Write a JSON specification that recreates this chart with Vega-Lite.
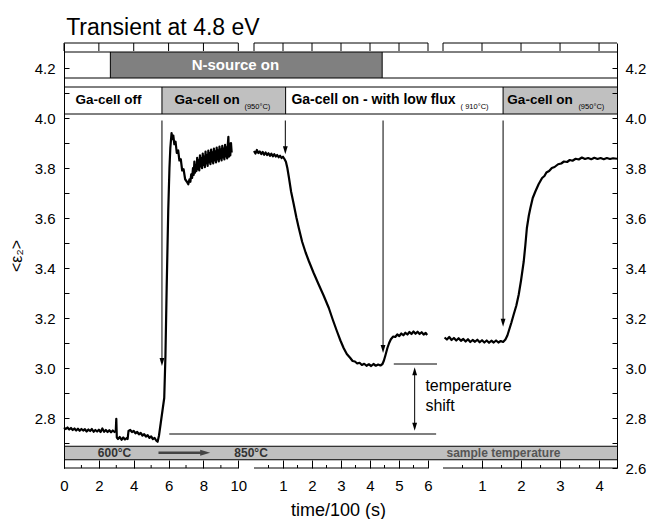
{
"$schema": "https://vega.github.io/schema/vega-lite/v6.json",
"padding": {"left": 8, "right": 3, "top": 16, "bottom": 0},
"title": {"text": "Transient at 4.8 eV", "anchor": "start", "fontSize": 23, "fontWeight": "normal", "color": "black", "offset": 3, "dx": 58},
"spacing": 0,
"bounds": "flush",
"config": {
  "font": "Liberation Sans",
  "view": {"stroke": null},
  "axis": {"grid": false, "domainColor": "black", "tickColor": "black", "labelColor": "black", "titleColor": "black", "labelFontSize": 15, "titleFontSize": 18, "titleFontWeight": "normal", "labelFlush": false, "labelOverlap": false, "zindex": 1},
  "text": {"font": "Liberation Sans"}
},
"datasets": {
  "p1N": [{"start": 0, "end": 2.66, "state": "clear"}, {"start": 2.66, "end": 10.9, "state": "nsource"}],
  "p1Ga": [{"start": 0, "end": 5.62, "state": "off"}, {"start": 5.62, "end": 10.9, "state": "on950"}],
  "p2N": [{"start": 0, "end": 4.42, "state": "nsource"}, {"start": 4.42, "end": 6.517, "state": "clear"}],
  "p2Ga": [{"start": 0, "end": 1.09, "state": "on950"}, {"start": 1.09, "end": 6.517, "state": "low"}],
  "p3N": [{"start": 0, "end": 4.46, "state": "clear"}],
  "p3Ga": [{"start": 0, "end": 1.54, "state": "low"}, {"start": 1.54, "end": 4.46, "state": "on950"}],
  "p1top": [{"t": 0}, {"t": 2}, {"t": 4}, {"t": 6}, {"t": 8}, {"t": 10}],
  "p1minor": [{"t": 1}, {"t": 3}, {"t": 5}, {"t": 7}, {"t": 9}],
  "p2top": [{"t": 0}, {"t": 1}, {"t": 2}, {"t": 3}, {"t": 4}, {"t": 5}, {"t": 6}],
  "p2minor": [{"t": 0.5}, {"t": 1.5}, {"t": 2.5}, {"t": 3.5}, {"t": 4.5}, {"t": 5.5}],
  "p3top": [{"t": 0}, {"t": 1}, {"t": 2}, {"t": 3}, {"t": 4}],
  "p3minor": [{"t": 0.5}, {"t": 1.5}, {"t": 2.5}, {"t": 3.5}],
  "p1curve": [{"t":0,"v":2.762},{"t":0.1,"v":2.756},{"t":0.2,"v":2.762},{"t":0.3,"v":2.754},{"t":0.4,"v":2.760},{"t":0.5,"v":2.752},{"t":0.6,"v":2.758},{"t":0.7,"v":2.750},{"t":0.8,"v":2.757},{"t":0.9,"v":2.749},{"t":1.0,"v":2.756},{"t":1.1,"v":2.750},{"t":1.2,"v":2.755},{"t":1.3,"v":2.746},{"t":1.4,"v":2.754},{"t":1.5,"v":2.748},{"t":1.6,"v":2.756},{"t":1.7,"v":2.745},{"t":1.8,"v":2.752},{"t":1.9,"v":2.746},{"t":2.0,"v":2.753},{"t":2.1,"v":2.744},{"t":2.2,"v":2.758},{"t":2.3,"v":2.745},{"t":2.4,"v":2.752},{"t":2.5,"v":2.744},{"t":2.6,"v":2.751},{"t":2.7,"v":2.743},{"t":2.8,"v":2.750},{"t":2.9,"v":2.744},{"t":2.97,"v":2.748},{"t":3.0,"v":2.797},{"t":3.03,"v":2.722},{"t":3.1,"v":2.716},{"t":3.2,"v":2.724},{"t":3.3,"v":2.713},{"t":3.4,"v":2.722},{"t":3.5,"v":2.714},{"t":3.6,"v":2.720},{"t":3.65,"v":2.716},{"t":3.7,"v":2.748},{"t":3.8,"v":2.752},{"t":3.9,"v":2.744},{"t":4.0,"v":2.748},{"t":4.1,"v":2.739},{"t":4.2,"v":2.744},{"t":4.3,"v":2.735},{"t":4.4,"v":2.740},{"t":4.5,"v":2.730},{"t":4.6,"v":2.735},{"t":4.7,"v":2.726},{"t":4.8,"v":2.731},{"t":4.9,"v":2.721},{"t":5.0,"v":2.726},{"t":5.1,"v":2.716},{"t":5.2,"v":2.720},{"t":5.3,"v":2.709},{"t":5.37,"v":2.705},{"t":5.45,"v":2.73},{"t":5.55,"v":2.78},{"t":5.65,"v":2.83},{"t":5.75,"v":2.88},{"t":5.82,"v":3.05},{"t":5.89,"v":3.32},{"t":5.98,"v":3.63},{"t":6.05,"v":3.80},{"t":6.1,"v":3.88},{"t":6.17,"v":3.94},{"t":6.22,"v":3.915},{"t":6.27,"v":3.93},{"t":6.33,"v":3.895},{"t":6.4,"v":3.905},{"t":6.47,"v":3.86},{"t":6.55,"v":3.87},{"t":6.62,"v":3.83},{"t":6.7,"v":3.835},{"t":6.78,"v":3.79},{"t":6.86,"v":3.795},{"t":6.95,"v":3.755},{"t":7.05,"v":3.745},{"t":7.13,"v":3.735},{"t":7.2,"v":3.755},{"t":7.25,"v":3.745},{"t":7.3,"v":3.775},{"t":7.35,"v":3.760},{"t":7.40,"v":3.800},{"t":7.44,"v":3.772},{"t":7.48,"v":3.826},{"t":7.52,"v":3.781},{"t":7.56,"v":3.812},{"t":7.60,"v":3.788},{"t":7.64,"v":3.841},{"t":7.68,"v":3.795},{"t":7.72,"v":3.830},{"t":7.76,"v":3.790},{"t":7.80,"v":3.851},{"t":7.84,"v":3.806},{"t":7.88,"v":3.838},{"t":7.92,"v":3.799},{"t":7.96,"v":3.858},{"t":8.00,"v":3.812},{"t":8.04,"v":3.845},{"t":8.08,"v":3.803},{"t":8.12,"v":3.866},{"t":8.16,"v":3.818},{"t":8.20,"v":3.850},{"t":8.24,"v":3.808},{"t":8.28,"v":3.870},{"t":8.32,"v":3.822},{"t":8.36,"v":3.859},{"t":8.40,"v":3.815},{"t":8.44,"v":3.874},{"t":8.48,"v":3.826},{"t":8.52,"v":3.862},{"t":8.56,"v":3.818},{"t":8.60,"v":3.878},{"t":8.64,"v":3.830},{"t":8.68,"v":3.866},{"t":8.72,"v":3.822},{"t":8.76,"v":3.882},{"t":8.80,"v":3.834},{"t":8.84,"v":3.870},{"t":8.88,"v":3.826},{"t":8.92,"v":3.886},{"t":8.96,"v":3.838},{"t":9.00,"v":3.874},{"t":9.04,"v":3.830},{"t":9.08,"v":3.889},{"t":9.12,"v":3.842},{"t":9.16,"v":3.877},{"t":9.20,"v":3.834},{"t":9.24,"v":3.893},{"t":9.28,"v":3.846},{"t":9.32,"v":3.882},{"t":9.36,"v":3.838},{"t":9.40,"v":3.896},{"t":9.43,"v":3.925},{"t":9.46,"v":3.845},{"t":9.50,"v":3.898},{"t":9.54,"v":3.850},{"t":9.58,"v":3.900},{"t":9.62,"v":3.862}],
  "p2curve": [{"t":0,"v":3.868},{"t":0.05,"v":3.858},{"t":0.1,"v":3.872},{"t":0.15,"v":3.860},{"t":0.2,"v":3.866},{"t":0.25,"v":3.856},{"t":0.3,"v":3.864},{"t":0.35,"v":3.853},{"t":0.4,"v":3.862},{"t":0.45,"v":3.852},{"t":0.5,"v":3.859},{"t":0.55,"v":3.849},{"t":0.6,"v":3.857},{"t":0.65,"v":3.847},{"t":0.7,"v":3.855},{"t":0.75,"v":3.846},{"t":0.8,"v":3.852},{"t":0.85,"v":3.843},{"t":0.9,"v":3.849},{"t":0.95,"v":3.840},{"t":1.0,"v":3.845},{"t":1.05,"v":3.836},{"t":1.1,"v":3.825},{"t":1.15,"v":3.80},{"t":1.2,"v":3.765},{"t":1.28,"v":3.705},{"t":1.37,"v":3.655},{"t":1.46,"v":3.603},{"t":1.54,"v":3.562},{"t":1.66,"v":3.505},{"t":1.78,"v":3.462},{"t":1.89,"v":3.428},{"t":2.05,"v":3.382},{"t":2.23,"v":3.334},{"t":2.4,"v":3.29},{"t":2.58,"v":3.24},{"t":2.72,"v":3.192},{"t":2.86,"v":3.147},{"t":2.98,"v":3.11},{"t":3.09,"v":3.08},{"t":3.2,"v":3.056},{"t":3.32,"v":3.04},{"t":3.4,"v":3.028},{"t":3.48,"v":3.026},{"t":3.56,"v":3.018},{"t":3.64,"v":3.021},{"t":3.72,"v":3.012},{"t":3.8,"v":3.017},{"t":3.88,"v":3.009},{"t":3.96,"v":3.015},{"t":4.04,"v":3.008},{"t":4.12,"v":3.016},{"t":4.2,"v":3.009},{"t":4.28,"v":3.014},{"t":4.36,"v":3.010},{"t":4.43,"v":3.016},{"t":4.48,"v":3.03},{"t":4.53,"v":3.05},{"t":4.6,"v":3.08},{"t":4.66,"v":3.10},{"t":4.72,"v":3.115},{"t":4.8,"v":3.126},{"t":4.87,"v":3.124},{"t":4.94,"v":3.134},{"t":5.01,"v":3.128},{"t":5.08,"v":3.138},{"t":5.15,"v":3.131},{"t":5.22,"v":3.141},{"t":5.29,"v":3.134},{"t":5.36,"v":3.144},{"t":5.43,"v":3.136},{"t":5.5,"v":3.146},{"t":5.57,"v":3.137},{"t":5.64,"v":3.145},{"t":5.71,"v":3.136},{"t":5.78,"v":3.143},{"t":5.85,"v":3.134},{"t":5.92,"v":3.140},{"t":5.97,"v":3.132}],
  "p3curve": [{"t":0.04,"v":3.122},{"t":0.1,"v":3.114},{"t":0.16,"v":3.124},{"t":0.22,"v":3.112},{"t":0.28,"v":3.12},{"t":0.34,"v":3.110},{"t":0.4,"v":3.119},{"t":0.46,"v":3.109},{"t":0.52,"v":3.116},{"t":0.58,"v":3.106},{"t":0.64,"v":3.115},{"t":0.7,"v":3.104},{"t":0.76,"v":3.112},{"t":0.82,"v":3.105},{"t":0.88,"v":3.113},{"t":0.94,"v":3.103},{"t":1.0,"v":3.111},{"t":1.06,"v":3.102},{"t":1.12,"v":3.110},{"t":1.18,"v":3.101},{"t":1.24,"v":3.109},{"t":1.3,"v":3.102},{"t":1.36,"v":3.110},{"t":1.42,"v":3.102},{"t":1.48,"v":3.108},{"t":1.54,"v":3.104},{"t":1.6,"v":3.114},{"t":1.65,"v":3.13},{"t":1.7,"v":3.155},{"t":1.75,"v":3.18},{"t":1.81,"v":3.213},{"t":1.88,"v":3.25},{"t":1.94,"v":3.293},{"t":2.0,"v":3.35},{"t":2.07,"v":3.427},{"t":2.11,"v":3.49},{"t":2.15,"v":3.56},{"t":2.2,"v":3.61},{"t":2.24,"v":3.64},{"t":2.3,"v":3.68},{"t":2.37,"v":3.707},{"t":2.45,"v":3.735},{"t":2.54,"v":3.76},{"t":2.6,"v":3.768},{"t":2.65,"v":3.782},{"t":2.72,"v":3.788},{"t":2.79,"v":3.80},{"t":2.86,"v":3.804},{"t":2.95,"v":3.815},{"t":3.03,"v":3.818},{"t":3.1,"v":3.826},{"t":3.18,"v":3.824},{"t":3.25,"v":3.832},{"t":3.32,"v":3.829},{"t":3.4,"v":3.837},{"t":3.48,"v":3.834},{"t":3.56,"v":3.842},{"t":3.64,"v":3.836},{"t":3.72,"v":3.840},{"t":3.8,"v":3.835},{"t":3.88,"v":3.841},{"t":3.96,"v":3.836},{"t":4.04,"v":3.840},{"t":4.12,"v":3.835},{"t":4.2,"v":3.840},{"t":4.28,"v":3.836},{"t":4.36,"v":3.839},{"t":4.46,"v":3.837}]
},
"hconcat": [
{
  "width": 190, "height": 425,
  "data": {"values": [{}]},
  "layer": [
    {"data": {"name": "p1N"}, "mark": {"type": "rect"},
     "encoding": {
       "x": {"field": "start", "type": "quantitative", "scale": {"domain": [0, 10.9], "nice": false, "zero": false}, "axis": {"orient": "bottom", "values": [0, 2, 4, 6, 8, 10], "tickCount": 100, "format": ".0f", "domain": false, "tickSize": -8, "labelPadding": 18, "labelOverlap": false, "zindex": 1, "title": null}},
       "x2": {"field": "end"},
       "y": {"datum": 4.16, "type": "quantitative", "scale": {"domain": [2.6, 4.3], "nice": false, "zero": false}, "axis": {"orient": "left", "values": [2.7, 2.8, 2.9, 3.0, 3.1, 3.2, 3.3, 3.4, 3.5, 3.6, 3.7, 3.8, 3.9, 4.0, 4.1, 4.2], "tickCount": 100, "tickSize": -5, "labelPadding": 14, "labelOverlap": false, "zindex": 1, "labelExpr": "round(datum.value*10) % 2 == 0 ? format(datum.value, '.1f') : ''", "title": "<ε₂>", "titleFontSize": 16, "titlePadding": 10}},
       "y2": {"datum": 4.264},
       "fill": {"field": "state", "type": "nominal", "scale": {"domain": ["clear", "nsource", "off", "on950", "low"], "range": ["#ffffff", "#808080", "#ffffff", "#c0c0c0", "#ffffff"]}, "legend": null}
     }},
    {"data": {"name": "p1Ga"}, "mark": {"type": "rect"},
     "encoding": {"x": {"field": "start", "type": "quantitative"}, "x2": {"field": "end"}, "y": {"datum": 4.016}, "y2": {"datum": 4.124},
       "fill": {"field": "state", "type": "nominal", "scale": {"domain": ["clear", "nsource", "off", "on950", "low"], "range": ["#ffffff", "#808080", "#ffffff", "#c0c0c0", "#ffffff"]}, "legend": null}}},
    {"mark": {"type": "rect", "color": "#c0c0c0"}, "encoding": {"y": {"datum": 2.633}, "y2": {"datum": 2.687}}},
    {"mark": {"type": "rule", "color": "black", "strokeWidth": 1}, "encoding": {"y": {"datum": 4.264}}},
    {"mark": {"type": "rule", "color": "black", "strokeWidth": 1}, "encoding": {"y": {"datum": 4.16}}},
    {"mark": {"type": "rule", "color": "black", "strokeWidth": 1}, "encoding": {"y": {"datum": 4.124}}},
    {"mark": {"type": "rule", "color": "black", "strokeWidth": 1}, "encoding": {"y": {"datum": 4.016}}},
    {"mark": {"type": "rule", "color": "black", "strokeWidth": 1}, "encoding": {"y": {"datum": 2.687}}},
    {"mark": {"type": "rule", "color": "black", "strokeWidth": 1}, "encoding": {"y": {"datum": 2.633}}},
    {"mark": {"type": "rule", "color": "black", "strokeWidth": 1}, "encoding": {"x": {"datum": 2.66}, "y": {"datum": 4.16}, "y2": {"datum": 4.264}}},
    {"mark": {"type": "rule", "color": "black", "strokeWidth": 1}, "encoding": {"x": {"datum": 5.62}, "y": {"datum": 4.016}, "y2": {"datum": 4.124}}},
    {"mark": {"type": "rule", "color": "black", "strokeWidth": 1}, "encoding": {"x": {"datum": 0}, "x2": {"datum": 10}, "y": {"datum": 4.3}}},
    {"mark": {"type": "rule", "color": "black", "strokeWidth": 1}, "encoding": {"x": {"datum": 0}, "x2": {"datum": 10}, "y": {"datum": 2.6}}},
    {"data": {"name": "p1top"}, "mark": {"type": "rule", "color": "black", "strokeWidth": 1}, "encoding": {"x": {"field": "t", "type": "quantitative"}, "y": {"datum": 4.3}, "y2": {"datum": 4.268}}},
    {"data": {"name": "p1minor"}, "mark": {"type": "rule", "color": "black", "strokeWidth": 1}, "encoding": {"x": {"field": "t", "type": "quantitative"}, "y": {"datum": 2.6}, "y2": {"datum": 2.612}}},
    {"mark": {"type": "rule", "color": "#555555", "strokeWidth": 1.5}, "encoding": {"x": {"datum": 6.04}, "x2": {"datum": 10.9}, "y": {"datum": 2.736}}},
    {"data": {"name": "p1curve"}, "mark": {"type": "line", "color": "black", "strokeWidth": 2.2, "strokeJoin": "round"}, "encoding": {"x": {"field": "t", "type": "quantitative"}, "y": {"field": "v", "type": "quantitative"}}},
    {"mark": {"type": "rule", "color": "black", "strokeWidth": 1}, "encoding": {"x": {"datum": 5.62}, "y": {"datum": 3.99}, "y2": {"datum": 3.03}}},
    {"mark": {"type": "point", "shape": "M-0.6,-1L0.6,-1L0,1Z", "filled": true, "color": "black", "opacity": 1, "size": 64}, "encoding": {"x": {"datum": 5.62}, "y": {"datum": 3.024}}},
    {"mark": {"type": "rule", "color": "#444444", "strokeWidth": 2.5}, "encoding": {"x": {"datum": 5.42}, "x2": {"datum": 8.0}, "y": {"datum": 2.661}}},
    {"mark": {"type": "point", "shape": "M-1,-0.6L1,0L-1,0.6Z", "filled": true, "color": "#444444", "opacity": 1, "size": 100}, "encoding": {"x": {"datum": 8.1}, "y": {"datum": 2.661}}},
    {"mark": {"type": "text", "text": "Ga-cell off", "color": "black", "fontWeight": "bold", "fontSize": 13.5, "align": "left", "baseline": "middle"}, "encoding": {"x": {"datum": 0.66}, "y": {"datum": 4.072}}},
    {"mark": {"type": "text", "text": "Ga-cell on", "color": "black", "fontWeight": "bold", "fontSize": 13.5, "align": "left", "baseline": "middle"}, "encoding": {"x": {"datum": 6.34}, "y": {"datum": 4.072}}},
    {"mark": {"type": "text", "text": "600°C", "color": "#333333", "fontWeight": "bold", "fontSize": 12, "align": "center", "baseline": "middle"}, "encoding": {"x": {"datum": 2.9}, "y": {"datum": 2.662}}}
  ]
},
{
  "width": 189, "height": 425,
  "data": {"values": [{}]},
  "layer": [
    {"data": {"name": "p2N"}, "mark": {"type": "rect"},
     "encoding": {
       "x": {"field": "start", "type": "quantitative", "scale": {"domain": [0, 6.517], "nice": false, "zero": false}, "axis": {"orient": "bottom", "values": [1, 2, 3, 4, 5, 6], "tickCount": 100, "format": ".0f", "domain": false, "tickSize": -8, "labelPadding": 18, "labelOverlap": false, "zindex": 1, "title": "time/100 (s)", "titlePadding": 8, "titleX": 84}},
       "x2": {"field": "end"},
       "y": {"datum": 4.16, "type": "quantitative", "scale": {"domain": [2.6, 4.3], "nice": false, "zero": false}, "axis": {"domain": false, "ticks": false, "labels": false, "title": null}},
       "y2": {"datum": 4.264},
       "fill": {"field": "state", "type": "nominal", "scale": {"domain": ["clear", "nsource", "off", "on950", "low"], "range": ["#ffffff", "#808080", "#ffffff", "#c0c0c0", "#ffffff"]}, "legend": null}
     }},
    {"data": {"name": "p2Ga"}, "mark": {"type": "rect"},
     "encoding": {"x": {"field": "start", "type": "quantitative"}, "x2": {"field": "end"}, "y": {"datum": 4.016}, "y2": {"datum": 4.124},
       "fill": {"field": "state", "type": "nominal", "scale": {"domain": ["clear", "nsource", "off", "on950", "low"], "range": ["#ffffff", "#808080", "#ffffff", "#c0c0c0", "#ffffff"]}, "legend": null}}},
    {"mark": {"type": "rect", "color": "#c0c0c0"}, "encoding": {"y": {"datum": 2.633}, "y2": {"datum": 2.687}}},
    {"mark": {"type": "rule", "color": "black", "strokeWidth": 1}, "encoding": {"y": {"datum": 4.264}}},
    {"mark": {"type": "rule", "color": "black", "strokeWidth": 1}, "encoding": {"y": {"datum": 4.16}}},
    {"mark": {"type": "rule", "color": "black", "strokeWidth": 1}, "encoding": {"y": {"datum": 4.124}}},
    {"mark": {"type": "rule", "color": "black", "strokeWidth": 1}, "encoding": {"y": {"datum": 4.016}}},
    {"mark": {"type": "rule", "color": "black", "strokeWidth": 1}, "encoding": {"y": {"datum": 2.687}}},
    {"mark": {"type": "rule", "color": "black", "strokeWidth": 1}, "encoding": {"y": {"datum": 2.633}}},
    {"mark": {"type": "rule", "color": "black", "strokeWidth": 1}, "encoding": {"x": {"datum": 4.42}, "y": {"datum": 4.16}, "y2": {"datum": 4.264}}},
    {"mark": {"type": "rule", "color": "black", "strokeWidth": 1}, "encoding": {"x": {"datum": 1.09}, "y": {"datum": 4.016}, "y2": {"datum": 4.124}}},
    {"mark": {"type": "rule", "color": "black", "strokeWidth": 1}, "encoding": {"x": {"datum": 0}, "x2": {"datum": 6}, "y": {"datum": 4.3}}},
    {"mark": {"type": "rule", "color": "black", "strokeWidth": 1}, "encoding": {"x": {"datum": 0}, "x2": {"datum": 6}, "y": {"datum": 2.6}}},
    {"data": {"name": "p2top"}, "mark": {"type": "rule", "color": "black", "strokeWidth": 1}, "encoding": {"x": {"field": "t", "type": "quantitative"}, "y": {"datum": 4.3}, "y2": {"datum": 4.268}}},
    {"data": {"name": "p2minor"}, "mark": {"type": "rule", "color": "black", "strokeWidth": 1}, "encoding": {"x": {"field": "t", "type": "quantitative"}, "y": {"datum": 2.6}, "y2": {"datum": 2.612}}},
    {"mark": {"type": "rule", "color": "#555555", "strokeWidth": 1.5}, "encoding": {"x": {"datum": 0}, "x2": {"datum": 6.28}, "y": {"datum": 2.736}}},
    {"mark": {"type": "rule", "color": "black", "strokeWidth": 1}, "encoding": {"x": {"datum": 4.82}, "x2": {"datum": 6.31}, "y": {"datum": 3.016}}},
    {"data": {"name": "p2curve"}, "mark": {"type": "line", "color": "black", "strokeWidth": 2.2, "strokeJoin": "round"}, "encoding": {"x": {"field": "t", "type": "quantitative"}, "y": {"field": "v", "type": "quantitative"}}},
    {"mark": {"type": "rule", "color": "black", "strokeWidth": 1}, "encoding": {"x": {"datum": 1.08}, "y": {"datum": 3.99}, "y2": {"datum": 3.875}}},
    {"mark": {"type": "point", "shape": "M-0.6,-1L0.6,-1L0,1Z", "filled": true, "color": "black", "opacity": 1, "size": 64}, "encoding": {"x": {"datum": 1.08}, "y": {"datum": 3.871}}},
    {"mark": {"type": "rule", "color": "black", "strokeWidth": 1}, "encoding": {"x": {"datum": 4.45}, "y": {"datum": 3.99}, "y2": {"datum": 3.08}}},
    {"mark": {"type": "point", "shape": "M-0.6,-1L0.6,-1L0,1Z", "filled": true, "color": "black", "opacity": 1, "size": 64}, "encoding": {"x": {"datum": 4.45}, "y": {"datum": 3.076}}},
    {"mark": {"type": "rule", "color": "black", "strokeWidth": 1}, "encoding": {"x": {"datum": 5.54}, "y": {"datum": 2.77}, "y2": {"datum": 2.98}}},
    {"mark": {"type": "point", "shape": "M-0.6,1L0.6,1L0,-1Z", "filled": true, "color": "black", "opacity": 1, "size": 64}, "encoding": {"x": {"datum": 5.54}, "y": {"datum": 2.987}}},
    {"mark": {"type": "point", "shape": "M-0.6,-1L0.6,-1L0,1Z", "filled": true, "color": "black", "opacity": 1, "size": 64}, "encoding": {"x": {"datum": 5.54}, "y": {"datum": 2.765}}},
    {"mark": {"type": "text", "text": "N-source on", "color": "white", "fontWeight": "bold", "fontSize": 15, "align": "center", "baseline": "middle"}, "encoding": {"x": {"datum": -0.64}, "y": {"datum": 4.212}}},
    {"mark": {"type": "text", "text": "(950°C)", "color": "black", "fontSize": 7.5, "align": "left", "baseline": "middle"}, "encoding": {"x": {"datum": -0.33}, "y": {"datum": 4.043}}},
    {"mark": {"type": "text", "text": "850°C", "color": "#333333", "fontWeight": "bold", "fontSize": 12, "align": "center", "baseline": "middle"}, "encoding": {"x": {"datum": -0.1}, "y": {"datum": 2.662}}},
    {"mark": {"type": "text", "text": "temperature", "color": "black", "fontSize": 16, "align": "left", "baseline": "middle"}, "encoding": {"x": {"datum": 5.91}, "y": {"datum": 2.928}}},
    {"mark": {"type": "text", "text": "shift", "color": "black", "fontSize": 16, "align": "left", "baseline": "middle"}, "encoding": {"x": {"datum": 5.91}, "y": {"datum": 2.848}}}
  ]
},
{
  "width": 174, "height": 425,
  "data": {"values": [{}]},
  "layer": [
    {"data": {"name": "p3N"}, "mark": {"type": "rect"},
     "encoding": {
       "x": {"field": "start", "type": "quantitative", "scale": {"domain": [0, 4.46], "nice": false, "zero": false}, "axis": {"orient": "bottom", "values": [1, 2, 3, 4], "tickCount": 100, "format": ".0f", "domain": false, "tickSize": -8, "labelPadding": 18, "labelOverlap": false, "zindex": 1, "title": null}},
       "x2": {"field": "end"},
       "y": {"datum": 4.16, "type": "quantitative", "scale": {"domain": [2.6, 4.3], "nice": false, "zero": false}, "axis": {"orient": "right", "values": [2.6, 2.7, 2.8, 2.9, 3.0, 3.1, 3.2, 3.3, 3.4, 3.5, 3.6, 3.7, 3.8, 3.9, 4.0, 4.1, 4.2], "tickCount": 100, "tickSize": -5, "labelPadding": 13, "labelOverlap": false, "zindex": 1, "labelExpr": "round(datum.value*10) % 2 == 0 ? format(datum.value, '.1f') : ''", "title": null}},
       "y2": {"datum": 4.264},
       "fill": {"field": "state", "type": "nominal", "scale": {"domain": ["clear", "nsource", "off", "on950", "low"], "range": ["#ffffff", "#808080", "#ffffff", "#c0c0c0", "#ffffff"]}, "legend": null}
     }},
    {"data": {"name": "p3Ga"}, "mark": {"type": "rect"},
     "encoding": {"x": {"field": "start", "type": "quantitative"}, "x2": {"field": "end"}, "y": {"datum": 4.016}, "y2": {"datum": 4.124},
       "fill": {"field": "state", "type": "nominal", "scale": {"domain": ["clear", "nsource", "off", "on950", "low"], "range": ["#ffffff", "#808080", "#ffffff", "#c0c0c0", "#ffffff"]}, "legend": null}}},
    {"mark": {"type": "rect", "color": "#c0c0c0"}, "encoding": {"y": {"datum": 2.633}, "y2": {"datum": 2.687}}},
    {"mark": {"type": "rule", "color": "black", "strokeWidth": 1}, "encoding": {"y": {"datum": 4.264}}},
    {"mark": {"type": "rule", "color": "black", "strokeWidth": 1}, "encoding": {"y": {"datum": 4.16}}},
    {"mark": {"type": "rule", "color": "black", "strokeWidth": 1}, "encoding": {"y": {"datum": 4.124}}},
    {"mark": {"type": "rule", "color": "black", "strokeWidth": 1}, "encoding": {"y": {"datum": 4.016}}},
    {"mark": {"type": "rule", "color": "black", "strokeWidth": 1}, "encoding": {"y": {"datum": 2.687}}},
    {"mark": {"type": "rule", "color": "black", "strokeWidth": 1}, "encoding": {"y": {"datum": 2.633}}},
    {"mark": {"type": "rule", "color": "black", "strokeWidth": 1}, "encoding": {"x": {"datum": 1.54}, "y": {"datum": 4.016}, "y2": {"datum": 4.124}}},
    {"mark": {"type": "rule", "color": "black", "strokeWidth": 1}, "encoding": {"x": {"datum": 0}, "x2": {"datum": 4.46}, "y": {"datum": 4.3}}},
    {"mark": {"type": "rule", "color": "black", "strokeWidth": 1}, "encoding": {"x": {"datum": 0}, "x2": {"datum": 4.46}, "y": {"datum": 2.6}}},
    {"data": {"name": "p3top"}, "mark": {"type": "rule", "color": "black", "strokeWidth": 1}, "encoding": {"x": {"field": "t", "type": "quantitative"}, "y": {"datum": 4.3}, "y2": {"datum": 4.268}}},
    {"data": {"name": "p3minor"}, "mark": {"type": "rule", "color": "black", "strokeWidth": 1}, "encoding": {"x": {"field": "t", "type": "quantitative"}, "y": {"datum": 2.6}, "y2": {"datum": 2.612}}},
    {"data": {"name": "p3curve"}, "mark": {"type": "line", "color": "black", "strokeWidth": 2.2, "strokeJoin": "round"}, "encoding": {"x": {"field": "t", "type": "quantitative"}, "y": {"field": "v", "type": "quantitative"}}},
    {"mark": {"type": "rule", "color": "black", "strokeWidth": 1}, "encoding": {"x": {"datum": 1.54}, "y": {"datum": 3.99}, "y2": {"datum": 3.185}}},
    {"mark": {"type": "point", "shape": "M-0.6,-1L0.6,-1L0,1Z", "filled": true, "color": "black", "opacity": 1, "size": 64}, "encoding": {"x": {"datum": 1.54}, "y": {"datum": 3.181}}},
    {"mark": {"type": "text", "text": "Ga-cell on - with low flux", "color": "black", "fontWeight": "bold", "fontSize": 14, "align": "left", "baseline": "middle"}, "encoding": {"x": {"datum": -3.885}, "y": {"datum": 4.072}}},
    {"mark": {"type": "text", "text": "( 910°C)", "color": "black", "fontSize": 7.5, "align": "left", "baseline": "middle"}, "encoding": {"x": {"datum": 0.45}, "y": {"datum": 4.043}}},
    {"mark": {"type": "text", "text": "Ga-cell on", "color": "black", "fontWeight": "bold", "fontSize": 13.5, "align": "left", "baseline": "middle"}, "encoding": {"x": {"datum": 1.65}, "y": {"datum": 4.072}}},
    {"mark": {"type": "text", "text": "(950°C)", "color": "black", "fontSize": 7.5, "align": "left", "baseline": "middle"}, "encoding": {"x": {"datum": 3.47}, "y": {"datum": 4.043}}},
    {"mark": {"type": "text", "text": "sample temperature", "color": "#555555", "fontWeight": "bold", "fontSize": 12, "align": "center", "baseline": "middle"}, "encoding": {"x": {"datum": 1.55}, "y": {"datum": 2.662}}}
  ]
}
]
}
